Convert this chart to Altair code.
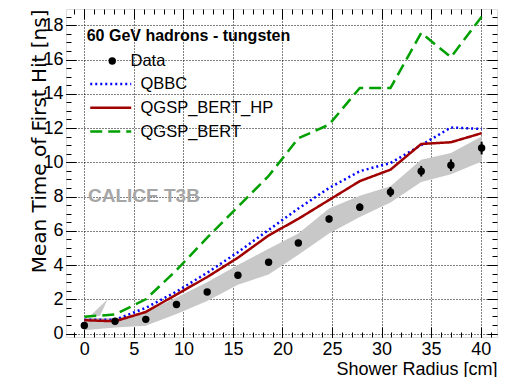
import altair as alt
import pandas as pd

# ---- data ----
radius = [0.0, 3.1, 6.2, 9.3, 12.4, 15.5, 18.6, 21.6, 24.7, 27.8, 30.9, 34.0, 37.0, 40.1]
data_t = [0.47, 0.72, 0.83, 1.70, 2.43, 3.41, 4.16, 5.29, 6.69, 7.38, 8.27, 9.48, 9.83, 10.83]
data_err = [0.1, 0.1, 0.1, 0.12, 0.12, 0.15, 0.15, 0.18, 0.2, 0.22, 0.29, 0.31, 0.34, 0.37]
band_lo = [0.2, 0.35, 0.45, 1.15, 1.9, 2.85, 3.45, 4.6, 5.85, 6.8, 7.65, 8.85, 9.3, 10.05]
band_hi = [0.93, 0.9, 1.25, 2.1, 3.0, 4.0, 4.95, 5.85, 7.3, 8.05, 8.6, 10.15, 10.55, 11.5]
spike_x = [0.58, 1.58, 2.33]
spike_lo = [1.03, 1.03, 1.99]
spike_hi = [1.03, 1.58, 1.99]

qbbc = [0.8, 0.81, 1.5, 2.45, 3.55, 4.75, 6.05, 7.3, 8.5, 9.48, 9.96, 11.0, 12.03, 11.95]
qgsp_bert_hp = [0.78, 0.72, 1.26, 2.28, 3.3, 4.43, 5.73, 6.7, 7.8, 8.9, 9.57, 11.07, 11.17, 11.7]
qgsp_bert = [0.98, 1.12, 2.0, 3.7, 5.6, 7.4, 9.2, 11.4, 12.2, 14.34, 14.34, 17.55, 16.14, 18.5]

models = ["QBBC", "QGSP_BERT_HP", "QGSP_BERT"]
model_colors = ["#0000ff", "#a00000", "#00a000"]
model_dashes = [[2, 3], [1, 0], [12, 6]]

x_major = [0, 5, 10, 15, 20, 25, 30, 35, 40]
x_minor = list(range(-1, 42))
y_major = [0, 2, 4, 6, 8, 10, 12, 14, 16, 18]
y_minor = [i * 0.5 for i in range(0, 38)]

# ---- tables ----
df_pts = pd.DataFrame({"r": radius, "t": data_t,
                       "lo": [a - b for a, b in zip(data_t, data_err)],
                       "hi": [a + b for a, b in zip(data_t, data_err)],
                       "series": "Data"})
df_band = pd.DataFrame({"r": radius, "lo": band_lo, "hi": band_hi})
df_spike = pd.DataFrame({"r": spike_x, "lo": spike_lo, "hi": spike_hi})
rows = []
for name, vals in zip(models, [qbbc, qgsp_bert_hp, qgsp_bert]):
    for r, v in zip(radius, vals):
        rows.append({"r": r, "t": v, "model": name})
df_lines = pd.DataFrame(rows)

W, H = 431, 328
FONT = "Liberation Sans"
xs = alt.Scale(domain=[-1.85, 41.65], nice=False, zero=False)
ys = alt.Scale(domain=[-0.2, 18.95], nice=False, zero=False)


def tick_axis(values, size, orient):
    return alt.Axis(values=values, orient=orient, offset=-size, tickSize=size,
                    ticks=True, tickColor="black", tickWidth=1, labels=False,
                    domain=False, grid=False, title=None)


x_main = alt.Axis(values=x_major, orient="bottom", grid=True, gridColor="black",
                  gridDash=[1, 2], gridWidth=1, gridOpacity=1, ticks=False, domain=False,
                  labelFont=FONT, labelFontSize=18, labelColor="black", labelPadding=3,
                  labelFlush=False, labelOverlap=False,
                  title="Shower Radius [cm]", titleFont=FONT, titleFontSize=18,
                  titleFontWeight="normal", titleColor="black", titleAlign="right",
                  titleX=W, titleY=37, titleBaseline="alphabetic")
y_main = alt.Axis(values=y_major, orient="left", grid=True, gridColor="black",
                  gridDash=[1, 2], gridWidth=1, gridOpacity=1, ticks=False, domain=False,
                  labelFont=FONT, labelFontSize=18, labelColor="black", labelPadding=3,
                  labelFlush=False, labelOverlap=False,
                  title="Mean Time of First Hit [ns]", titleFont="DejaVu Sans",
                  titleFontSize=20, titleFontWeight="normal", titleColor="black",
                  titleAngle=270, titleAlign="right", titleX=-21, titleY=0,
                  titleBaseline="alphabetic")

leg_lines = alt.Legend(orient="none", legendX=22.75, legendY=66.75, title=None,
                       symbolType="stroke", symbolSize=1681, symbolStrokeWidth=2.5,
                       labelFont=FONT, labelFontSize=16.5, labelColor="black",
                       labelOffset=7.75, rowPadding=6.75, clipHeight=16.5, padding=0,
                       labelLimit=300)
leg_data = alt.Legend(orient="none", legendX=20.7, legendY=19,
                      title="60 GeV hadrons - tungsten", titleFont=FONT, titleFontSize=16,
                      titleFontWeight="bold", titleColor="black", titleLimit=400,
                      titlePadding=8.75, symbolOffset=17.3, symbolFillColor="black",
                      symbolStrokeColor="black", symbolSize=55,
                      labelFont=FONT, labelFontSize=16.5, labelColor="black",
                      labelOffset=10, padding=0)

band = alt.Chart(df_band).mark_area(color="#c8c8c8", opacity=1).encode(
    x=alt.X("r:Q", scale=xs, axis=x_main),
    y=alt.Y("lo:Q", scale=ys, axis=y_main),
    y2="hi:Q")

spike = alt.Chart(df_spike).mark_area(color="#c8c8c8", opacity=1).encode(
    x=alt.X("r:Q", scale=xs, axis=tick_axis(x_major, 10, "bottom")),
    y=alt.Y("lo:Q", scale=ys, axis=tick_axis(y_major, 10, "left")),
    y2="hi:Q")

lines = alt.Chart(df_lines).mark_line(strokeWidth=2.5).encode(
    x=alt.X("r:Q", scale=xs, axis=tick_axis(x_minor, 5, "bottom")),
    y=alt.Y("t:Q", scale=ys, axis=tick_axis(y_minor, 5, "left")),
    color=alt.Color("model:N", scale=alt.Scale(domain=models, range=model_colors),
                    legend=leg_lines),
    strokeDash=alt.StrokeDash("model:N", scale=alt.Scale(domain=models, range=model_dashes),
                              legend=leg_lines))

errs = alt.Chart(df_pts).mark_rule(color="black", strokeWidth=2).encode(
    x=alt.X("r:Q", scale=xs, axis=tick_axis(x_major, 10, "top")),
    y=alt.Y("lo:Q", scale=ys, axis=tick_axis(y_major, 10, "right")),
    y2="hi:Q")

points = alt.Chart(df_pts).mark_point(filled=True, size=55, color="black", opacity=1).encode(
    x=alt.X("r:Q", scale=xs, axis=tick_axis(x_minor, 5, "top")),
    y=alt.Y("t:Q", scale=ys, axis=tick_axis(y_minor, 5, "right")),
    shape=alt.Shape("series:N", scale=alt.Scale(range=["circle"]), legend=leg_data))

label = alt.Chart(pd.DataFrame({"txt": ["CALICE T3B"]})).mark_text(
    font=FONT, fontSize=19, fontWeight="bold", color="#a6a6a6", align="left",
    baseline="alphabetic").encode(text="txt:N", x=alt.value(22), y=alt.value(192.7))

chart = alt.layer(band, spike, lines, errs, points, label).resolve_axis(
    x="independent", y="independent").resolve_legend(shape="independent").properties(
    width=W, height=H,
    autosize=alt.AutoSizeParams(type="none"),
    padding={"left": 58, "top": 1, "right": 5, "bottom": 40},
).configure_view(stroke="black", strokeWidth=2).configure(background="white")

chart.save("out.html", embed_options={"renderer": "svg", "actions": False})
